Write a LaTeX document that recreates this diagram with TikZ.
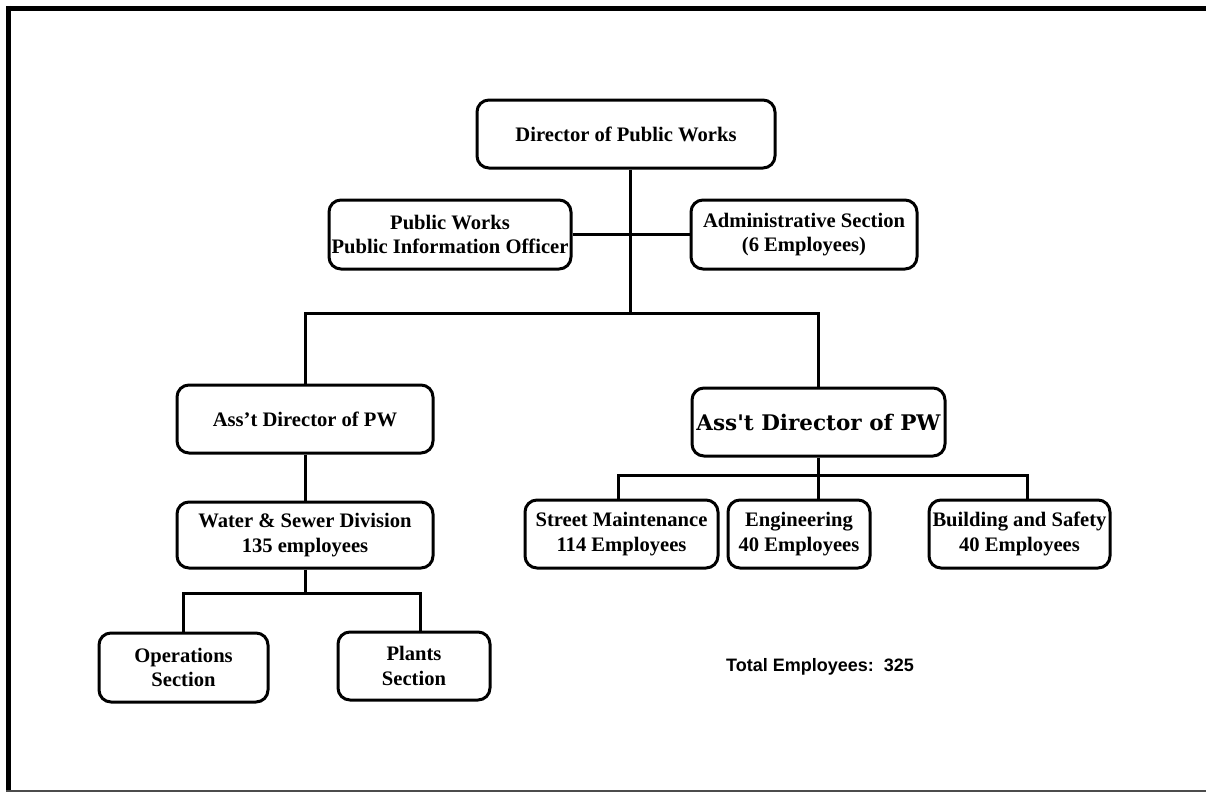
\documentclass[tikz,border=0pt]{standalone}
\usepackage{fontspec}
\setmainfont{Liberation Serif}
\newfontfamily\widefont{DejaVu Serif}
\newfontfamily\arialfont{Liberation Sans}
\newcommand{\apos}{{\char"27}}
\begin{document}
\begin{tikzpicture}[x=1pt,y=-1pt,
  box/.style={draw, line width=3pt, rounded corners=12pt, align=center,
    inner sep=0pt, font=\fontsize{20.6}{24.5}\selectfont\bfseries},
  conn/.style={line width=3pt}]
\useasboundingbox (0,0) rectangle (1206,792);
% frame
\draw[line width=5.5pt] (8.5,6) -- (8.5,792);
\draw[line width=5.5pt] (6,8.5) -- (1206,8.5);
\draw[line width=1.5pt, black!70] (6,791) -- (1206,791);
% boxes
\node[box, minimum width=298pt, minimum height=68pt] (dir) at (626,134) {Director of Public Works};
\node[box, minimum width=242pt, minimum height=69pt] (pio) at (450,234.5) {Public Works\\Public Information Officer};
\node[box, minimum width=226pt, minimum height=69pt] (adm) at (804,234.5) {Administrative Section\\(6 Employees)};
\node[box, minimum width=256pt, minimum height=68pt] (adl) at (305,419) {Ass\apos t Director of PW};
\node[box, minimum width=253pt, minimum height=68pt, font=\fontsize{21.5}{25}\widefont\bfseries] (adr) at (818.5,422) {Ass\apos t Director of PW};
\node[box, minimum width=256pt, minimum height=66pt] (ws) at (305,535) {Water \& Sewer Division\\135 employees};
\node[box, minimum width=169pt, minimum height=69pt] (ops) at (183.5,667.5) {Operations\\Section};
\node[box, minimum width=152pt, minimum height=68pt] (pl) at (414,666) {Plants\\Section};
\node[box, minimum width=193pt, minimum height=68pt] (sm) at (621.5,534) {Street Maintenance\\114 Employees};
\node[box, minimum width=142pt, minimum height=68pt] (eng) at (799,534) {Engineering\\40 Employees};
\node[box, minimum width=181pt, minimum height=68pt] (bs) at (1019.5,534) {Building and Safety\\40 Employees};
\node[font=\fontsize{18}{21}\arialfont\bfseries, inner sep=0pt] (tot) at (820,667) {Total Employees:\ \ 325};
% connectors
\coordinate (j1) at (630,313);
\coordinate (j2) at (305,593);
\coordinate (j2r) at (420,593);
\coordinate (j3) at (818,475);
\coordinate (j3l) at (618,475);
\coordinate (j3r) at (1027,475);
\draw[conn] (j1 |- dir.south) -- (j1);
\draw[conn] (pio.east) -- (adm.west);
\draw[conn] (adl.north) |- (j1) -| (adr.north);
\draw[conn] (adl.south) -- (ws.north);
\draw[conn] (ws.south) -- (j2);
\draw[conn] (ops.north) |- (j2r) -- (j2r |- pl.north);
\draw[conn] (adr.south) -- (adr.south |- j3);
\draw[conn] (j3l |- sm.north) -- (j3l) -- (j3r) -- (j3r |- bs.north);
\draw[conn] (j3) -- (j3 |- eng.north);
\end{tikzpicture}
\end{document}
